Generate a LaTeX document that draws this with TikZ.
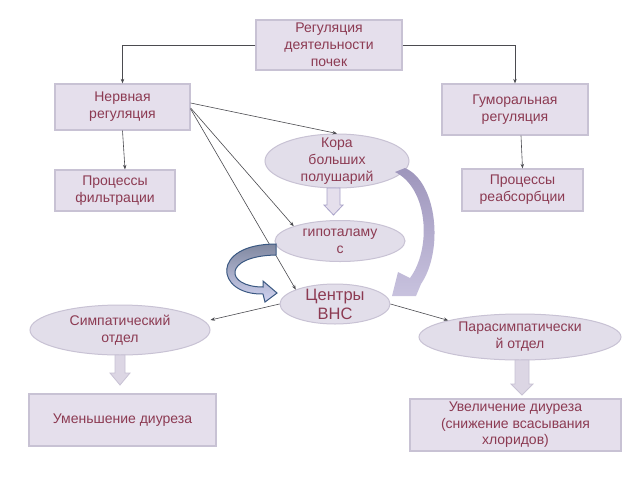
\documentclass[tikz,border=0pt]{standalone}
\usepackage{fontspec}
\setmainfont{Liberation Sans}
\usetikzlibrary{shapes.geometric,arrows.meta,calc}
\definecolor{boxfill}{RGB}{229,223,236}
\definecolor{boxline}{RGB}{200,194,212}
\definecolor{ovalfill}{RGB}{226,222,234}
\definecolor{txt}{RGB}{140,58,82}
\definecolor{connc}{RGB}{75,75,80}
\definecolor{blkline}{RGB}{169,163,201}
\definecolor{blkfill}{RGB}{220,214,228}
\definecolor{bigtop}{RGB}{158,150,188}
\definecolor{bigbot}{RGB}{200,194,222}
\definecolor{curtop}{RGB}{128,136,160}
\definecolor{curbot}{RGB}{208,210,240}
\definecolor{curline}{RGB}{58,88,130}
\begin{document}
\begin{tikzpicture}[x=1pt,y=-1pt,
  box/.style={rectangle, draw=boxline, line width=1.3pt, fill=boxfill, text=txt,
    font=\fontsize{14}{17}\selectfont, align=center, inner sep=0pt},
  oval/.style={ellipse, draw=boxline, line width=1pt, fill=ovalfill, inner sep=0pt},
  ovaltext/.style={text=txt, font=\fontsize{14}{17}\selectfont, align=center, inner sep=0pt},
  conn/.style={draw=connc, line width=0.6pt, -{Stealth[length=4.5pt,width=3.5pt]}},
  blockarrow/.style={fill=blkfill, draw=blkline, line width=0.8pt}
]
\useasboundingbox[fill=white] (0,0) rectangle (640,480);

% rectangles
\node[box, minimum width=146, minimum height=50] (top) at (329,45) {Регуляция\\деятельности\\почек};
\node[box, minimum width=135, minimum height=46] (nerv) at (122.5,107) {Нервная\\регуляция};
\node[box, minimum width=146, minimum height=51] (hum) at (515,109.5) {Гуморальная\\регуляция};
\node[box, minimum width=120, minimum height=41] (filt) at (115,190.5) {Процессы\\фильтрации};
\node[box, minimum width=121, minimum height=42] (reab) at (522.5,190) {Процессы\\реабсорбции};
\node[box, minimum width=187, minimum height=52] (less) at (122.5,420) {Уменьшение диуреза};
\node[box, minimum width=211, minimum height=52, font=\fontsize{14}{16.5}\selectfont] (more) at (515.5,425) {Увеличение диуреза\\(снижение всасывания\\хлоридов)};

% ellipses
\node[oval, minimum width=144, minimum height=54] (kora) at (337,161) {};
\node[ovaltext] (kora-t) at (kora) {Кора\\больших\\полушарий};
\node[oval, minimum width=130, minimum height=41] (hypo) at (340,241) {};
\node[ovaltext] (hypo-t) at (hypo) {гипоталаму\\с};
\node[oval, minimum width=110, minimum height=40] (centr) at (335,304) {};
\node[ovaltext, font=\fontsize{16.5}{19}\selectfont] (centr-t) at (centr) {Центры\\ВНС};
\node[oval, minimum width=180, minimum height=50] (simp) at (120,330) {};
\node[ovaltext] (simp-t) at (simp) {Симпатический\\отдел};
\node[oval, minimum width=202, minimum height=46] (para) at (520,337) {};
\node[ovaltext] (para-t) at (para) {Парасимпатически\\й отдел};

% connectors
\draw[conn] (top.west) -| (nerv.north);
\draw[conn] (top.east) -| (hum.north);
\draw[conn] (nerv.south) -- ([xshift=10pt]filt.north);
\draw[conn] ([xshift=6pt]hum.south) -- (reab.north);
\draw[conn] ([yshift=4pt]nerv.east) -- (kora.north);
\draw[conn] ([yshift=-1pt]nerv.east) -- (hypo.north west);
\draw[conn] ([yshift=-2pt]nerv.east) -- (centr.north west);
\draw[conn] (centr.west) -- ([yshift=10pt]simp.east);
\draw[conn] (centr.east) -- (para.north west);

% straight block arrows
\filldraw[blockarrow, fill=boxfill] (327,188) -- (340,188) -- (340,205) -- (343,205) -- (333.5,215) -- (324,205) -- (327,205) -- cycle;
\filldraw[blockarrow, draw=boxline] (115,355) -- (125,355) -- (125,373) -- (130,373) -- (120,385) -- (110,373) -- (115,373) -- cycle;
\filldraw[blockarrow, draw=boxline] (515,360) -- (529,360) -- (529,384) -- (533,384) -- (522,395) -- (511,384) -- (515,384) -- cycle;

% big curved arrow from cortex to ANS centres
\shade[top color=bigtop, bottom color=bigbot]
  (395,172) .. controls (428,188) and (432,248) .. (410,278)
  -- (398,272) -- (392,296) -- (416,296) -- (421,284)
  .. controls (444,250) and (437,182) .. (405,168) -- cycle;

% curved arrow from hypothalamus to ANS centres
\shadedraw[top color=curtop, bottom color=curbot, draw=curline, line width=1pt]
  (276,244) .. controls (210,244) and (215,295) .. (263,294)
  -- (265,302) -- (277,293) -- (263,281) -- (263,287)
  .. controls (225,287) and (222,256) .. (276,255) -- cycle;
\end{tikzpicture}
\end{document}
